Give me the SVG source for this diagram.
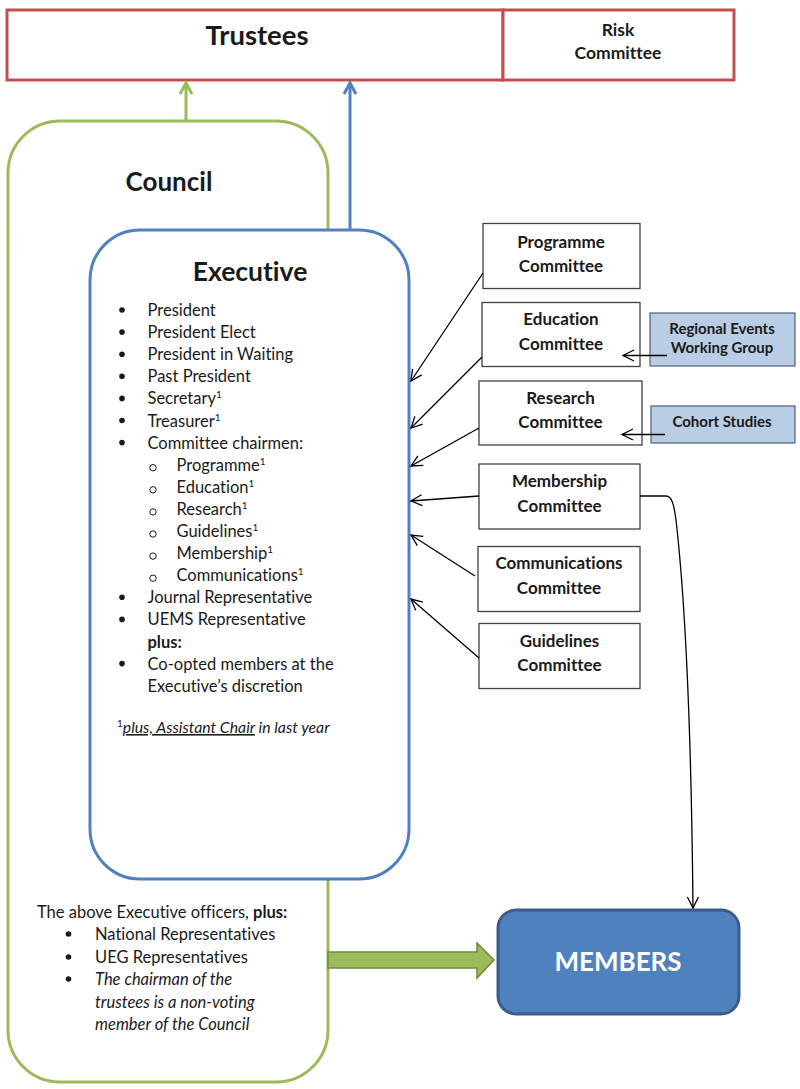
<svg xmlns="http://www.w3.org/2000/svg" width="800" height="1089" viewBox="0 0 800 1089">
<defs>
<marker id="open" markerUnits="userSpaceOnUse" markerWidth="14" markerHeight="14" refX="12" refY="7" orient="auto">
<path d="M1,1.5 L12,7 L1,12.5" fill="none" stroke="#000" stroke-width="1.3"/>
</marker>
<marker id="openG" markerUnits="userSpaceOnUse" markerWidth="16" markerHeight="16" refX="13" refY="8" orient="auto">
<path d="M2,2 L13,8 L2,14" fill="none" stroke="#9BBB59" stroke-width="3"/>
</marker>
<marker id="openB" markerUnits="userSpaceOnUse" markerWidth="16" markerHeight="16" refX="13" refY="8" orient="auto">
<path d="M2,2 L13,8 L2,14" fill="none" stroke="#4F81BD" stroke-width="3"/>
</marker>
</defs>
<style>
text{font-family:Lato,"Open Sans","Liberation Sans",sans-serif;fill:#1a1a1a;font-variant-ligatures:none}
.b{font-weight:bold}
.li{font-size:16.5px}
.cm{font-size:17px;font-weight:bold;text-anchor:middle}
.sm{font-size:15px;font-weight:bold;text-anchor:middle}
.sub{font-size:10px}
.box{fill:#fff;stroke:#404040;stroke-width:1.3}
.lb{fill:#B9CDE5;stroke:#4d5f78;stroke-width:1.2}
.con{fill:none;stroke:#000;stroke-width:1.3}
</style>
<rect width="800" height="1089" fill="#fff"/>

<g id="trustees">
<rect x="7" y="10" width="496" height="70" fill="#fff" stroke="#C0504D" stroke-width="3"/>
<text x="257" y="45" class="b" font-size="27.5" text-anchor="middle">Trustees</text>
</g>
<g id="risk">
<rect x="503" y="10" width="231" height="70" fill="#fff" stroke="#C0504D" stroke-width="3"/>
<text x="618" y="36" class="b" font-size="17.5" text-anchor="middle">Risk</text>
<text x="618" y="59" class="b" font-size="17.5" text-anchor="middle">Committee</text>
</g>

<g id="council">
<rect x="8" y="121" width="320" height="961" rx="52" ry="52" fill="#fff" stroke="#9BBB59" stroke-width="3"/>
<text x="169" y="191" class="b" font-size="26" text-anchor="middle">Council</text>
<text x="37" y="918" class="li">The above Executive officers, <tspan class="b">plus:</tspan></text>
<circle cx="68.5" cy="934" r="2.8" fill="#1a1a1a"/>
<text x="95" y="940" class="li">National Representatives</text>
<circle cx="68.5" cy="957" r="2.8" fill="#1a1a1a"/>
<text x="95" y="963" class="li">UEG Representatives</text>
<circle cx="68.5" cy="979" r="2.8" fill="#1a1a1a"/>
<text x="95" y="985" class="li" font-style="italic">The chairman of the</text>
<text x="95" y="1008" class="li" font-style="italic">trustees is a non-voting</text>
<text x="95" y="1030" class="li" font-style="italic">member of the Council</text>
</g>

<g id="executive">
<rect x="90" y="230" width="319" height="649" rx="50" ry="50" fill="#fff" stroke="#4F81BD" stroke-width="3"/>
<text x="250" y="281" class="b" font-size="26.5" text-anchor="middle">Executive</text>
<g fill="#1a1a1a">
<circle cx="122" cy="310" r="2.8"/>
<circle cx="122" cy="332.1" r="2.8"/>
<circle cx="122" cy="354.2" r="2.8"/>
<circle cx="122" cy="376.3" r="2.8"/>
<circle cx="122" cy="398.4" r="2.8"/>
<circle cx="122" cy="420.5" r="2.8"/>
<circle cx="122" cy="442.6" r="2.8"/>
<circle cx="122" cy="597.3" r="2.8"/>
<circle cx="122" cy="619.4" r="2.8"/>
<circle cx="122" cy="663.6" r="2.8"/>
</g>
<g fill="none" stroke="#1a1a1a" stroke-width="1">
<circle cx="153" cy="467.7" r="3.2"/>
<circle cx="153" cy="489.8" r="3.2"/>
<circle cx="153" cy="511.9" r="3.2"/>
<circle cx="153" cy="534" r="3.2"/>
<circle cx="153" cy="556.1" r="3.2"/>
<circle cx="153" cy="578.2" r="3.2"/>
</g>
<text x="147.5" y="316" class="li">President</text>
<text x="147.5" y="338.1" class="li">President Elect</text>
<text x="147.5" y="360.2" class="li">President in Waiting</text>
<text x="147.5" y="382.3" class="li">Past President</text>
<text x="147.5" y="404.4" class="li">Secretary<tspan class="sub" dy="-6">1</tspan></text>
<text x="147.5" y="426.5" class="li">Treasurer<tspan class="sub" dy="-6">1</tspan></text>
<text x="147.5" y="448.6" class="li">Committee chairmen:</text>
<text x="176.5" y="470.7" class="li">Programme<tspan class="sub" dy="-6">1</tspan></text>
<text x="176.5" y="492.8" class="li">Education<tspan class="sub" dy="-6">1</tspan></text>
<text x="176.5" y="514.9" class="li">Research<tspan class="sub" dy="-6">1</tspan></text>
<text x="176.5" y="537" class="li">Guidelines<tspan class="sub" dy="-6">1</tspan></text>
<text x="176.5" y="559.1" class="li">Membership<tspan class="sub" dy="-6">1</tspan></text>
<text x="176.5" y="581.2" class="li">Communications<tspan class="sub" dy="-6">1</tspan></text>
<text x="147.5" y="603.3" class="li">Journal Representative</text>
<text x="147.5" y="625.4" class="li">UEMS Representative</text>
<text x="147.5" y="647.5" class="li b">plus:</text>
<text x="147.5" y="669.6" class="li">Co-opted members at the</text>
<text x="147.5" y="691.7" class="li">Executive’s discretion</text>
<text x="117" y="733" font-size="15.8" font-style="italic"><tspan class="sub" dy="-6" font-style="normal">1</tspan><tspan dy="6" text-decoration="underline">plus, Assistant Chair</tspan> in last year</text>
</g>

<g id="programme">
<rect x="483" y="223.5" width="157" height="65" class="box"/>
<text x="561" y="247.5" class="cm">Programme</text>
<text x="561" y="271.5" class="cm">Committee</text>
</g>
<g id="education">
<rect x="482" y="302.5" width="158" height="64" class="box"/>
<text x="561" y="325" class="cm">Education</text>
<text x="561" y="349.5" class="cm">Committee</text>
</g>
<g id="research">
<rect x="479" y="381" width="163" height="64" class="box"/>
<text x="560.5" y="403.5" class="cm">Research</text>
<text x="560.5" y="427.5" class="cm">Committee</text>
</g>
<g id="membership">
<rect x="479" y="464" width="161" height="65" class="box"/>
<text x="559.5" y="487" class="cm">Membership</text>
<text x="559.5" y="511.5" class="cm">Committee</text>
</g>
<g id="communications">
<rect x="478" y="546.5" width="162" height="65" class="box"/>
<text x="559" y="569" class="cm">Communications</text>
<text x="559" y="593.5" class="cm">Committee</text>
</g>
<g id="guidelines">
<rect x="479" y="623.5" width="161" height="65" class="box"/>
<text x="559.5" y="646.5" class="cm">Guidelines</text>
<text x="559.5" y="671" class="cm">Committee</text>
</g>
<g id="regional">
<rect x="650" y="313" width="145" height="53" class="lb"/>
<text x="722" y="334" class="sm">Regional Events</text>
<text x="722" y="353" class="sm">Working Group</text>
</g>
<g id="cohort">
<rect x="651" y="406" width="144" height="37" class="lb"/>
<text x="722" y="427" class="sm">Cohort Studies</text>
</g>
<g id="members">
<rect x="498" y="910" width="241" height="104" rx="18" ry="18" fill="#4F81BD" stroke="#385D8A" stroke-width="3"/>
<text x="618" y="971" class="b" font-size="26" text-anchor="middle" style="fill:#fff">MEMBERS</text>
</g>

<g id="connectors">
<line x1="186" y1="121" x2="186" y2="83" stroke="#9BBB59" stroke-width="3" marker-end="url(#openG)"/>
<line x1="350" y1="229" x2="350" y2="83" stroke="#4F81BD" stroke-width="3" marker-end="url(#openB)"/>
<line x1="483" y1="273" x2="411" y2="381" class="con" marker-end="url(#open)"/>
<line x1="482" y1="357" x2="411" y2="428" class="con" marker-end="url(#open)"/>
<line x1="479" y1="428" x2="411" y2="466" class="con" marker-end="url(#open)"/>
<line x1="479" y1="496" x2="411" y2="501" class="con" marker-end="url(#open)"/>
<line x1="475" y1="576" x2="411" y2="535" class="con" marker-end="url(#open)"/>
<line x1="479" y1="658" x2="411" y2="599" class="con" marker-end="url(#open)"/>
<line x1="667" y1="355.5" x2="623" y2="355.5" class="con" marker-end="url(#open)"/>
<line x1="665" y1="434.5" x2="622" y2="434.5" class="con" marker-end="url(#open)"/>
<path d="M640,496 L666,496 C672,496 674,505 676,520 C684,590 691,700 693,908" class="con" marker-end="url(#open)"/>
<polygon points="328,952 477,952 477,943 494,960 477,978 477,968 328,968" fill="#9BBB59" stroke="#71893F" stroke-width="1.5"/>
</g>
</svg>
